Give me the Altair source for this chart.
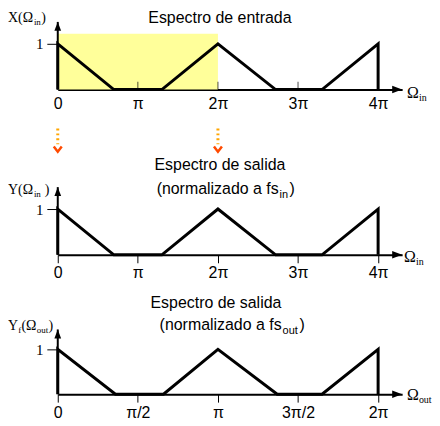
import json
import altair as alt
import pandas as pd

# ---------------- data (frequencies in units of π) ----------------
in_x = [0, 0, 0.70, 1.30, 2, 2.72, 3.30, 4, 4]      # input spectrum X(Ω_in)
in_y = [0, 1, 0, 0, 1, 0, 0, 1, 0]
sal_x = [0, 0, 0.70, 1.30, 2, 2.72, 3.30, 4, 4]     # output spectrum, normalised to fs_in
sal_y = [0, 1, 0, 0, 1, 0, 0, 1, 0]
out_x = [0, 0, 0.36, 0.66, 1, 1.37, 1.65, 2, 2]     # output spectrum, normalised to fs_out
out_y = [0, 1, 0, 0, 1, 0, 0, 1, 0]
band_x = [0, 2]                                       # shaded band 0 .. 2π
band_y = [0, 1.22]
arrow_x = [0, 2]                                      # dotted arrows at 0 and 2π
ticks_in = [0, 1, 2, 3, 4]
labels_in = ["0", "π", "2π", "3π", "4π"]
ticks_out = [0, 0.5, 1, 1.5, 2]
labels_out = ["0", "π/2", "π", "3π/2", "2π"]
ytick = [1]
ytick_label = ["1"]
title_in = "Espectro de entrada"
title_out = "Espectro de salida"
sub_main = "(normalizado a fs"

# ---------------- style / layout ----------------
SERIF = "Liberation Serif, Times New Roman, serif"
SANS = "Liberation Sans, Arial, sans-serif"
X0 = 58          # page x of the vertical axis
W = 346          # plot width


def label_expr(vals, labs):
    return f"{json.dumps(labs, ensure_ascii=False)}[indexof({json.dumps(vals)}, datum.value)]"


def panel(xs, ys, ticks, tlabels, top, axis, ky, kx, xmax, tip_px, inward, texts,
          band=False, arrows=False):
    H = axis - top
    ymax = H / ky
    tip = (axis - tip_px) / ky
    PX = lambda px: (px - X0) / kx
    PY = lambda py: (axis - py) / ky

    sig = pd.DataFrame({"x": xs, "y": ys, "i": list(range(len(xs)))})
    xenc = alt.X("x:Q", scale=alt.Scale(domain=[0, xmax], nice=False, zero=False),
                 axis=alt.Axis(values=ticks, labelExpr=label_expr(ticks, tlabels), title=None,
                               grid=False, domainColor="black", domainWidth=2,
                               ticks=not inward, tickSize=8, tickColor="black", tickWidth=1,
                               labelPadding=6 if inward else 2, labelFont=SANS,
                               labelFontSize=16, labelColor="black", labelFlush=False,
                               labelOverlap=False))
    yenc = alt.Y("y:Q", scale=alt.Scale(domain=[0, ymax], nice=False, zero=False),
                 axis=alt.Axis(values=ytick, labelExpr=label_expr(ytick, ytick_label),
                               title=None, grid=False, domain=False, tickSize=11,
                               tickColor="black", tickWidth=1, labelPadding=4,
                               labelFont=SERIF, labelFontSize=15, labelColor="black"))

    layers = []
    if band:
        bd = pd.DataFrame({"x": [band_x[0]], "x2": [band_x[1]],
                           "y": [band_y[0]], "y2": [band_y[1]]})
        layers.append(alt.Chart(bd).mark_rect(color="#FFFF9A").encode(
            x=alt.X("x:Q"), x2="x2:Q", y=alt.Y("y:Q"), y2="y2:Q"))

    line = alt.Chart(sig).mark_line(color="black", strokeWidth=3, strokeJoin="miter").encode(
        x=xenc, y=yenc, order=alt.Order("i:Q"))
    layers.append(line)

    # vertical axis line + arrow heads
    ya = pd.DataFrame({"x": [0], "y": [0], "y2": [tip]})
    layers.append(alt.Chart(ya).mark_rule(color="black", strokeWidth=2).encode(
        x="x:Q", y="y:Q", y2="y2:Q"))
    layers.append(alt.Chart(pd.DataFrame({"x": [0], "y": [tip]})).mark_point(
        shape="M0,0 L-0.75,2 L0.75,2 Z", filled=True, size=81, color="black", opacity=1).encode(
        x="x:Q", y="y:Q"))
    layers.append(alt.Chart(pd.DataFrame({"x": [xmax], "y": [0]})).mark_point(
        shape="M0,0 L-2,-0.75 L-2,0.75 Z", filled=True, size=100, color="black", opacity=1).encode(
        x="x:Q", y="y:Q"))

    if inward:
        td = pd.DataFrame({"x": ticks, "y": [0] * len(ticks)})
        layers.append(alt.Chart(td).mark_tick(orient="vertical", size=8, thickness=1,
                                              yOffset=-4, color="black").encode(
            x="x:Q", y="y:Q"))

    if arrows:
        ad = pd.DataFrame({"x": arrow_x, "y": [PY(127)] * 2, "y2": [PY(143)] * 2})
        layers.append(alt.Chart(ad).mark_rule(color="#FFA500", strokeWidth=3,
                                              strokeDash=[2, 3]).encode(
            x="x:Q", y="y:Q", y2="y2:Q"))
        hd = pd.DataFrame({"x": arrow_x, "y": [PY(148)] * 2})
        layers.append(alt.Chart(hd).mark_point(
            shape="M-1,-0.7 L0,0.6 L1,-0.7", filled=False, size=64, color="#FF4A00",
            strokeWidth=2.5, opacity=1).encode(x="x:Q", y="y:Q"))

    for (t, px, py, size, font, align) in texts:
        d = pd.DataFrame({"t": [t], "x": [PX(px)], "y": [PY(py)]})
        layers.append(alt.Chart(d).mark_text(font=font, fontSize=size, align=align,
                                             baseline="alphabetic", color="black").encode(
            x="x:Q", y="y:Q", text="t:N"))

    return alt.layer(*layers).properties(width=W, height=H)


p1_texts = [
    (title_in, 221, 21, 16, SANS, "center"),
    ("X(Ω", 8, 20, 14, SERIF, "left"), ("in", 34, 23, 9, SERIF, "left"),
    (")", 41.5, 20, 14, SERIF, "left"),
    ("Ω", 409, 96, 16, SERIF, "left"), ("in", 421, 99, 10, SERIF, "left"),
]
p2_texts = [
    (title_out, 221, 169, 16, SANS, "center"),
    (sub_main, 280, 193, 16, SANS, "right"), ("in", 281, 197, 11, SANS, "left"),
    (")", 291, 193, 16, SANS, "left"),
    ("Y(Ω", 8, 193, 14, SERIF, "left"), ("in", 34, 196, 9, SERIF, "left"),
    (")", 45, 193, 14, SERIF, "left"),
    ("Ω", 406, 261, 16, SERIF, "left"), ("in", 418, 264, 10, SERIF, "left"),
]
p3_texts = [
    (title_out, 217, 307, 16, SANS, "center"),
    (sub_main, 283, 330, 16, SANS, "right"), ("out", 284, 334, 11, SANS, "left"),
    (")", 301, 330, 16, SANS, "left"),
    ("Y", 8, 330, 14, SERIF, "left"), ("f", 18.3, 333, 9, SERIF, "left"),
    ("(Ω", 21.5, 330, 14, SERIF, "left"), ("out", 37, 333, 9, SERIF, "left"),
    (")", 48.7, 330, 14, SERIF, "left"),
    ("Ω", 409, 400, 16, SERIF, "left"), ("out", 421, 403, 10, SERIF, "left"),
]

p1 = panel(in_x, in_y, ticks_in, labels_in, top=20, axis=88, ky=46, kx=80.5, xmax=4.3,
           tip_px=20, inward=True, texts=p1_texts, band=True)
p2 = panel(sal_x, sal_y, ticks_in, labels_in, top=88, axis=254, ky=46, kx=80.5, xmax=4.3,
           tip_px=186, inward=False, texts=p2_texts, arrows=True)
p3 = panel(out_x, out_y, ticks_out, labels_out, top=254, axis=394, ky=45, kx=161, xmax=2.15,
           tip_px=329, inward=False, texts=p3_texts)

chart = alt.vconcat(p1, p2, p3, spacing=0, bounds="flush").properties(
    padding=0, background="white").configure_view(stroke=None)

chart.save("out.html", embed_options={"renderer": "svg", "actions": False})
